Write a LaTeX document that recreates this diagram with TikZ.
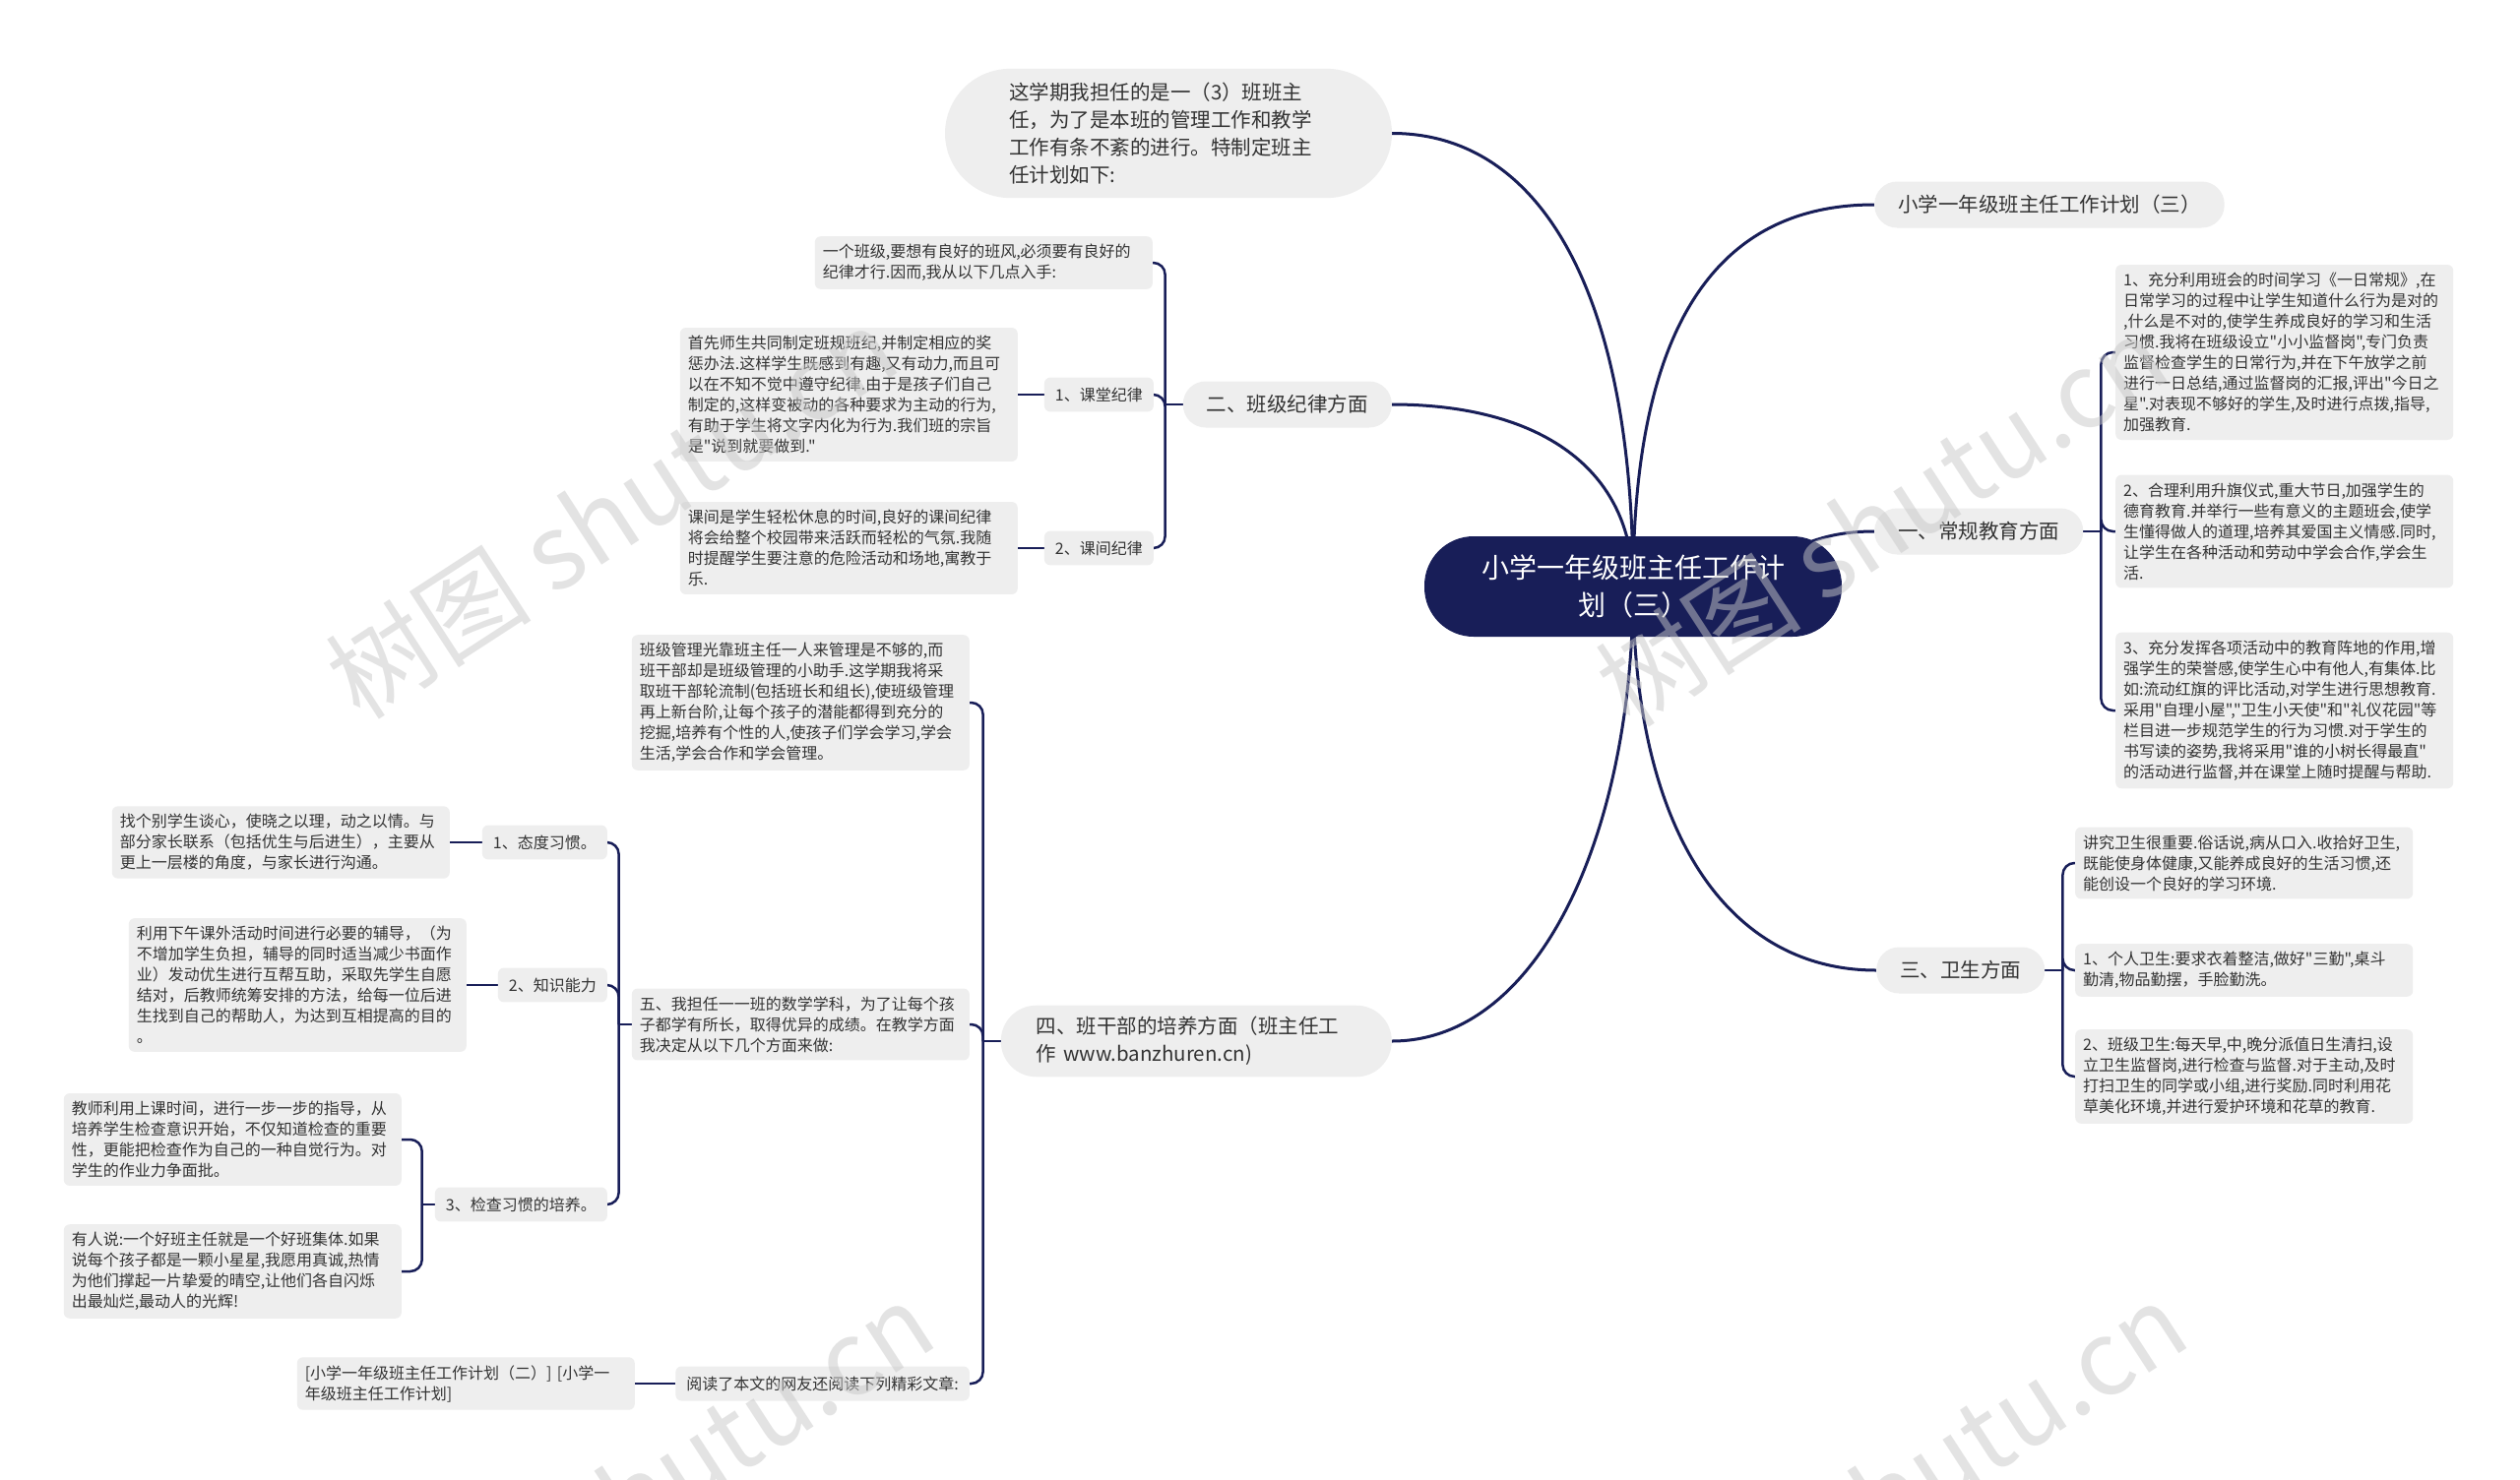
\documentclass[tikz,border=0pt]{standalone}
\usepackage{fontspec}
\setmainfont{Noto Sans CJK SC}[Ligatures=TeXOff]
\usetikzlibrary{backgrounds}
\definecolor{navy}{RGB}{24,30,88}
\definecolor{boxgray}{RGB}{238,238,238}
\definecolor{ink}{RGB}{51,51,51}
\definecolor{mark}{RGB}{200,200,200}

\tikzset{
  leaf/.style={fill=boxgray, text=ink, rounded corners=6pt, inner xsep=8pt, inner ysep=8pt,
    text width=327pt, align=left, font=\fontsize{16}{21}\selectfont},
  tag/.style={fill=boxgray, text=ink, rounded corners=6pt, inner xsep=11pt, inner ysep=10pt,
    font=\fontsize{16}{21}\selectfont},
  topic/.style={fill=boxgray, text=ink, rounded corners=23pt, inner xsep=24pt,
    minimum height=47pt, font=\fontsize{20.5}{28}\selectfont},
  bubble/.style={fill=boxgray, text=ink, align=left, font=\fontsize{20.5}{28}\selectfont},
  rootnode/.style={fill=navy, text=white, rounded corners=50pt, minimum width=424pt,
    minimum height=102pt, align=center, font=\fontsize{28}{37.5}\selectfont},
  mainline/.style={navy, line width=3pt},
  branch/.style={navy, line width=2.5pt, rounded corners=12pt},
  wmark/.style={text=mark, opacity=0.5, rotate=33, inner sep=0pt, font=\fontsize{105}{105}\selectfont},
}

\begin{document}
\begin{tikzpicture}[x=1pt, y=-1pt]
    \useasboundingbox (0,0) rectangle (2560,1504);

    % Root
    \node[rootnode] (root) at (1659,596) {小学一年级班主任工作计\\划（三）};

    % Intro
    \node[bubble, rounded corners=66pt, inner xsep=65pt, inner ysep=14pt, text width=324pt]
        (intro) at (1187,135.5) {这学期我担任的是一（3）班班主\\任，为了是本班的管理工作和教学\\工作有条不紊的进行。特制定班主\\任计划如下:};

    % Title
    \node[topic, anchor=west] (title) at (1904,208) {小学一年级班主任工作计划（三）};

    % Routine
    \node[topic, anchor=west] (routine) at (1904,540) {一、常规教育方面};
    \node[leaf, anchor=west] (r1) at (2149,358) {1、充分利用班会的时间学习《一日常规》,在\\日常学习的过程中让学生知道什么行为是对的\\,什么是不对的,使学生养成良好的学习和生活\\习惯.我将在班级设立"小小监督岗",专门负责\\监督检查学生的日常行为,并在下午放学之前\\进行一日总结,通过监督岗的汇报,评出"今日之\\星".对表现不够好的学生,及时进行点拨,指导,\\加强教育.};
    \node[leaf, anchor=west] (r2) at (2149,540) {2、合理利用升旗仪式,重大节日,加强学生的\\德育教育.并举行一些有意义的主题班会,使学\\生懂得做人的道理,培养其爱国主义情感.同时,\\让学生在各种活动和劳动中学会合作,学会生\\活.};
    \node[leaf, anchor=west] (r3) at (2149,722) {3、充分发挥各项活动中的教育阵地的作用,增\\强学生的荣誉感,使学生心中有他人,有集体.比\\如:流动红旗的评比活动,对学生进行思想教育.\\采用"自理小屋","卫生小天使"和"礼仪花园"等\\栏目进一步规范学生的行为习惯.对于学生的\\书写读的姿势,我将采用"谁的小树长得最直"\\的活动进行监督,并在课堂上随时提醒与帮助.};

    % Hygiene
    \node[topic, anchor=west] (hygiene) at (1906,986) {三、卫生方面};
    \node[leaf, anchor=west] (h0) at (2108,877) {讲究卫生很重要.俗话说,病从口入.收拾好卫生,\\既能使身体健康,又能养成良好的生活习惯,还\\能创设一个良好的学习环境.};
    \node[leaf, anchor=west] (h1) at (2108,986) {1、个人卫生:要求衣着整洁,做好"三勤",桌斗\\勤清,物品勤摆，手脸勤洗。};
    \node[leaf, anchor=west] (h2) at (2108,1094) {2、班级卫生:每天早,中,晚分派值日生清扫,设\\立卫生监督岗,进行检查与监督.对于主动,及时\\打扫卫生的同学或小组,进行奖励.同时利用花\\草美化环境,并进行爱护环境和花草的教育.};

    % Discipline
    \node[topic, anchor=east] (discipline) at (1414,411) {二、班级纪律方面};
    \node[leaf, anchor=east] (d0) at (1171,267) {一个班级,要想有良好的班风,必须要有良好的\\纪律才行.因而,我从以下几点入手:};
    \node[tag, anchor=east] (lesson) at (1172,401) {1、课堂纪律};
    \node[tag, anchor=east] (recess) at (1172,557) {2、课间纪律};
    \node[leaf, anchor=east] (lessontxt) at (1034,401) {首先师生共同制定班规班纪,并制定相应的奖\\惩办法.这样学生既感到有趣,又有动力,而且可\\以在不知不觉中遵守纪律.由于是孩子们自己\\制定的,这样变被动的各种要求为主动的行为,\\有助于学生将文字内化为行为.我们班的宗旨\\是"说到就要做到."};
    \node[leaf, anchor=east] (recesstxt) at (1034,557) {课间是学生轻松休息的时间,良好的课间纪律\\将会给整个校园带来活跃而轻松的气氛.我随\\时提醒学生要注意的危险活动和场地,寓教于\\乐.};

    % Cadre
    \node[bubble, rounded corners=36pt, inner xsep=36pt, inner ysep=11.5pt, text width=325pt, anchor=east]
        (cadre) at (1414,1058) {四、班干部的培养方面（班主任工\\作 www.banzhuren.cn)};
    \node[leaf, anchor=east] (c1) at (985,714) {班级管理光靠班主任一人来管理是不够的,而\\班干部却是班级管理的小助手.这学期我将采\\取班干部轮流制(包括班长和组长),使班级管理\\再上新台阶,让每个孩子的潜能都得到充分的\\挖掘,培养有个性的人,使孩子们学会学习,学会\\生活,学会合作和学会管理。};
    \node[leaf, anchor=east] (c2) at (985,1041) {五、我担任一一班的数学学科，为了让每个孩\\子都学有所长，取得优异的成绩。在教学方面\\我决定从以下几个方面来做:};
    \node[tag, anchor=east] (c3) at (985,1406) {阅读了本文的网友还阅读下列精彩文章:};
    \node[leaf, anchor=east] (c3txt) at (645,1406) {[小学一年级班主任工作计划（二）] [小学一\\年级班主任工作计划]};

    % Teaching
    \node[tag, anchor=east] (habit) at (617,856) {1、态度习惯。};
    \node[tag, anchor=east] (skill) at (617,1001) {2、知识能力};
    \node[tag, anchor=east] (check) at (617,1224) {3、检查习惯的培养。};
    \node[leaf, anchor=east] (habittxt) at (457,856) {找个别学生谈心，使晓之以理，动之以情。与\\部分家长联系（包括优生与后进生），主要从\\更上一层楼的角度，与家长进行沟通。};
    \node[leaf, anchor=east] (skilltxt) at (474,1001) {利用下午课外活动时间进行必要的辅导，（为\\不增加学生负担，辅导的同时适当减少书面作\\业）发动优生进行互帮互助，采取先学生自愿\\结对，后教师统筹安排的方法，给每一位后进\\生找到自己的帮助人，为达到互相提高的目的\\。};
    \node[leaf, anchor=east] (check1) at (408,1158) {教师利用上课时间，进行一步一步的指导，从\\培养学生检查意识开始，不仅知道检查的重要\\性，更能把检查作为自己的一种自觉行为。对\\学生的作业力争面批。};
    \node[leaf, anchor=east] (check2) at (408,1292) {有人说:一个好班主任就是一个好班集体.如果\\说每个孩子都是一颗小星星,我愿用真诚,热情\\为他们撑起一片挚爱的晴空,让他们各自闪烁\\出最灿烂,最动人的光辉!};

    \begin{scope}[on background layer]
        \fill[white] (0,0) rectangle (2560,1504);
        % Root branches
        \draw[mainline] (root.center) .. controls +(0,-300) and +(150,0) .. (intro.east);
        \draw[mainline] (root.center) .. controls +(0,-280) and +(-150,0) .. (title.west);
        \draw[mainline] (root.center) .. controls +(0,-120) and +(150,0) .. (discipline.east);
        \draw[mainline] (root.center) .. controls +(150,0) and +(-100,0) .. (routine.west);
        \draw[mainline] (root.center) .. controls +(0,250) and +(-150,0) .. (hygiene.west);
        \draw[mainline] (root.center) .. controls +(0,250) and +(150,0) .. (cadre.east);

        % Brackets
        \draw[branch] (routine.east) -- ++(18,0) coordinate (rb);
        \foreach \leafname in {r1,r2,r3} \draw[branch] (rb) |- (\leafname.west);
        \draw[branch] (hygiene.east) -- ++(18,0) coordinate (hb);
        \foreach \leafname in {h0,h1,h2} \draw[branch] (hb) |- (\leafname.west);
        \draw[branch] (discipline.west) -- ++(-18,0) coordinate (db);
        \foreach \leafname in {d0,lesson,recess} \draw[branch] (db) |- (\leafname.east);
        \draw[branch] (lesson.west) -- (lessontxt.east);
        \draw[branch] (recess.west) -- (recesstxt.east);
        \draw[branch] (cadre.west) -- ++(-18,0) coordinate (cb);
        \foreach \leafname in {c1,c2,c3} \draw[branch] (cb) |- (\leafname.east);
        \draw[branch] (c3.west) -- (c3txt.east);
        \draw[branch] (c2.west) -- ++(-13,0) coordinate (tb);
        \foreach \leafname in {habit,skill,check} \draw[branch] (tb) |- (\leafname.east);
        \draw[branch] (habit.west) -- (habittxt.east);
        \draw[branch] (skill.west) -- (skilltxt.east);
        \draw[branch] (check.west) -- ++(-13,0) coordinate (kb);
        \foreach \leafname in {check1,check2} \draw[branch] (kb) |- (\leafname.east);
    \end{scope}

    % Watermarks
    \foreach \x/\y/\side [count=\k] in {345/700/west, 1635/708/west, 935/1332/east, 2208/1332/east}
        \node[wmark, anchor=\side] (wm\k) at (\x,\y) {树图 shutu.cn};
\end{tikzpicture}
\end{document}
